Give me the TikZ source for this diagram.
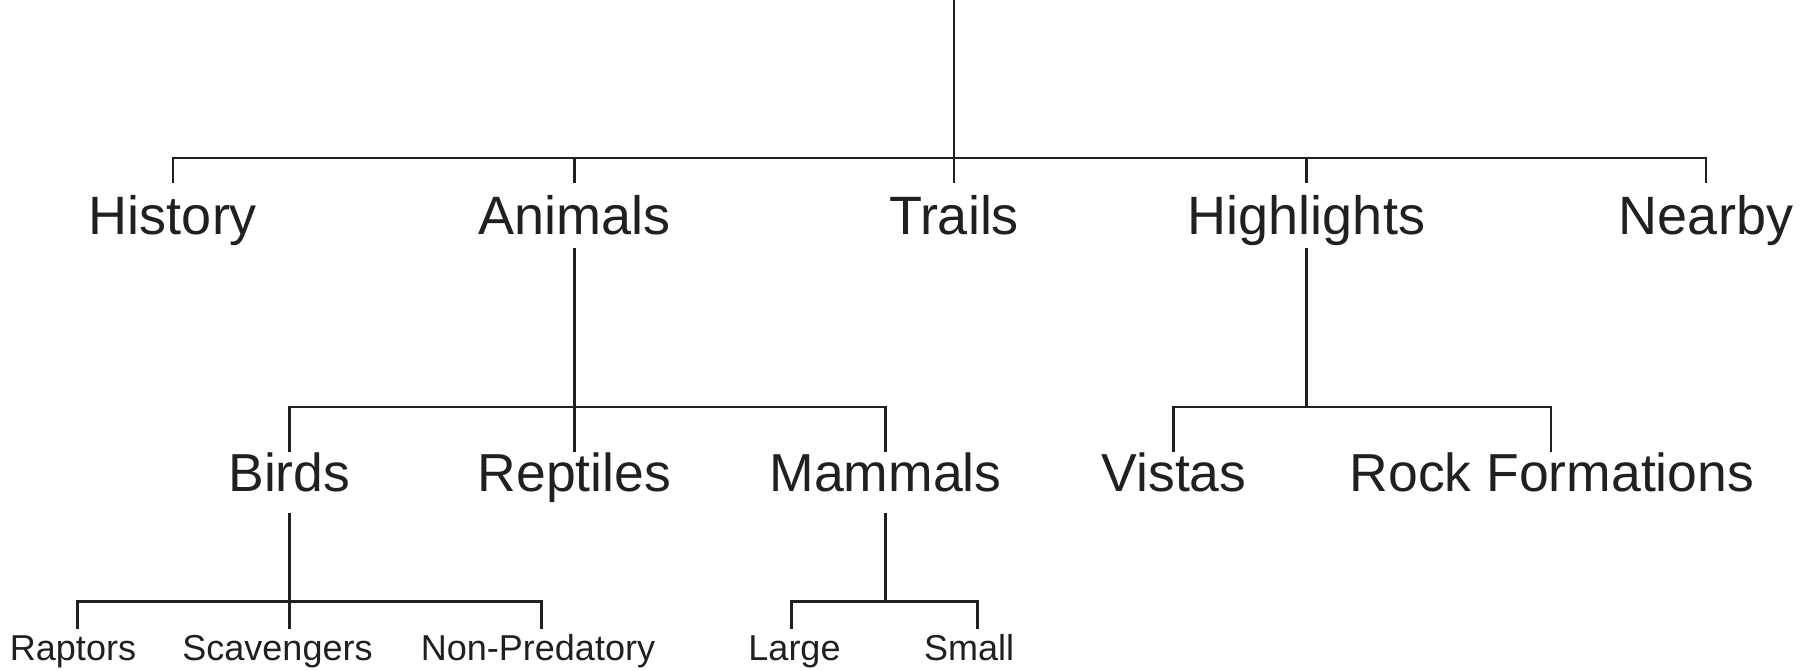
\documentclass[tikz,border=0pt]{standalone}
\usepackage{fontspec}
\setmainfont{Liberation Sans}
\definecolor{ink}{HTML}{231F20}
\begin{document}
\begin{tikzpicture}[x=1pt,y=1pt,
  lvlone/.style={anchor=base,inner sep=0pt,text=ink,font=\fontsize{54}{62}\selectfont},
  lvltwo/.style={anchor=base,inner sep=0pt,text=ink,font=\fontsize{53.5}{62}\selectfont},
  lvlthree/.style={anchor=base,inner sep=0pt,text=ink,font=\fontsize{36}{43}\selectfont},
  link/.style={draw=ink,line width=2.8pt},
  thinlink/.style={draw=ink,line width=2.2pt}]
\useasboundingbox (0,0) rectangle (1811,-670);
% level 1
\node[lvlone] (History)    at (173,-234)  {History};
\node[lvlone] (Animals)    at (574.5,-234) {Animals};
\node[lvlone] (Trails)     at (954,-234)  {Trails};
\node[lvlone] (Highlights) at (1306.5,-234) {Highlights};
\node[lvlone] (Nearby)     at (1706,-234) {Nearby};
% level 2
\node[lvltwo] (Birds)    at (289.3,-491) {Birds};
\node[lvltwo] (Reptiles) at (574.5,-491) {Reptiles};
\node[lvltwo] (Mammals)  at (885.5,-491) {Mammals};
\node[lvltwo] (Vistas)   at (1174,-491) {Vistas};
\node[lvltwo] (Rock)     at (1552,-491) {Rock Formations};
% level 3
\node[lvlthree] (Raptors)    at (73,-660)    {Raptors};
\node[lvlthree] (Scavengers) at (277.5,-660) {Scavengers};
\node[lvlthree] (NonPred)    at (538,-660)   {Non-Predatory};
\node[lvlthree] (Large)      at (794.5,-660) {Large};
\node[lvlthree] (Small)      at (969,-660)   {Small};
% hubs
\coordinate (top) at (954,0);
\coordinate (hubH) at (1306.5,-407);
\coordinate (hubM) at (885.5,-601.7);
% root connectors
\draw[thinlink] (top) -- ([yshift=51pt]Trails.base);
\draw[link] ([yshift=51pt]History.base) -- ++(0,25) -| ([yshift=51pt]Nearby.base);
\draw[link] ([yshift=51pt]Animals.base) -- ++(0,25);
\draw[link] ([yshift=51pt]Highlights.base) -- ++(0,25);
% Animals
\draw[link] ([yshift=-14pt]Animals.base) -- ([yshift=39.5pt]Reptiles.base);
\draw[link] ([yshift=39.5pt]Birds.base) -- ++(0,44.5) -| ([yshift=39.5pt]Mammals.base);
% Highlights
\draw[link] ([yshift=-14pt]Highlights.base) -- (hubH);
\draw[link] ([xshift=-0.5pt,yshift=39.5pt]Vistas.base) -- ++(0,44.5) -| ([xshift=-1pt,yshift=39.5pt]Rock.base);
% Birds
\draw[link] ([yshift=-22pt]Birds.base) -- ([xshift=11.8pt,yshift=31pt]Scavengers.base);
\draw[link] ([xshift=4.3pt,yshift=31pt]Raptors.base) -- ++(0,27.5) -| ([xshift=3.7pt,yshift=31pt]NonPred.base);
% Mammals
\draw[link] ([yshift=-22pt]Mammals.base) -- (hubM);
\draw[link] ([xshift=-2.8pt,yshift=31pt]Large.base) -- ++(0,27.5) -| ([xshift=8.7pt,yshift=31pt]Small.base);
\end{tikzpicture}
\end{document}
